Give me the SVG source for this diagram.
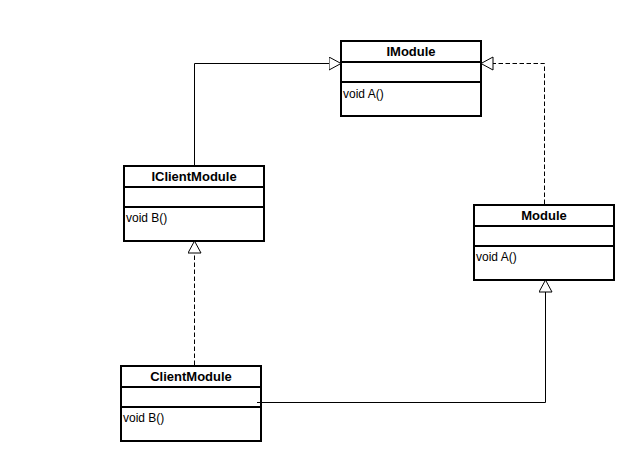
<svg xmlns="http://www.w3.org/2000/svg" width="635" height="461" viewBox="0 0 635 461">
<style>
.box{fill:#fff;stroke:#000;stroke-width:2}
.sep{stroke:#000;stroke-width:2;fill:none}
.title{font-family:"Liberation Sans",Arial,sans-serif;font-size:13px;font-weight:bold;text-anchor:middle;fill:#000}
.member{font-family:"Liberation Sans",Arial,sans-serif;font-size:12px;fill:#000}
.edge{fill:none;stroke:#000;stroke-width:1}
.dash{stroke-dasharray:4.5 2.5}
</style>
<defs>
<marker id="tri" markerUnits="userSpaceOnUse" markerWidth="14" markerHeight="15" refX="12.5" refY="7" orient="auto">
<path d="M0.5,0.5 L12.5,7 L0.5,13.5 Z" fill="#fff" stroke="#000" stroke-width="1"/>
</marker>
</defs>
<rect width="635" height="461" fill="#fff"/>
<g id="IModule">
<rect class="box" x="341" y="41" width="140" height="75"/>
<path class="sep" d="M341,62 H481 M341,82 H481"/>
<text class="title" x="411" y="56">IModule</text>
<text class="member" x="343" y="98">void A()</text>
</g>
<g id="IClientModule">
<rect class="box" x="124" y="166" width="140" height="75"/>
<path class="sep" d="M124,187 H264 M124,207 H264"/>
<text class="title" x="194" y="181">IClientModule</text>
<text class="member" x="126" y="222">void B()</text>
</g>
<g id="Module">
<rect class="box" x="474" y="205" width="140" height="75"/>
<path class="sep" d="M474,226 H614 M474,246 H614"/>
<text class="title" x="544" y="220">Module</text>
<text class="member" x="476" y="261">void A()</text>
</g>
<g id="ClientModule">
<rect class="box" x="121" y="366" width="140" height="75"/>
<path class="sep" d="M121,387 H261 M121,407 H261"/>
<text class="title" x="191" y="381">ClientModule</text>
<text class="member" x="123" y="422">void B()</text>
</g>
<g id="connectors">
<path class="edge" d="M194.5,165 V63.5 H341" marker-end="url(#tri)"/>
<path class="edge dash" d="M544.5,204 V63.5 H481" marker-end="url(#tri)"/>
<path class="edge dash" d="M194.5,365 V241" marker-end="url(#tri)"/>
<path class="edge" d="M257,402.5 H545.5 V280" marker-end="url(#tri)"/>
</g>
</svg>
